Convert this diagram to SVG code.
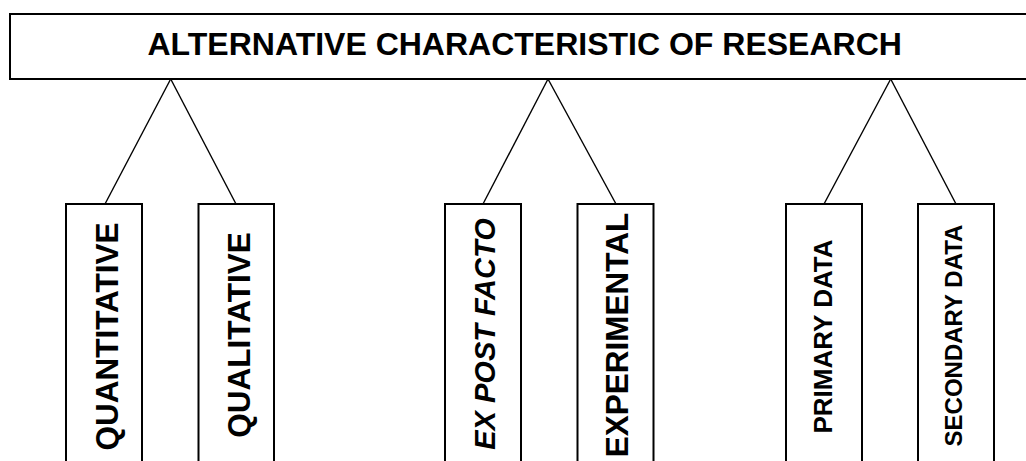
<svg xmlns="http://www.w3.org/2000/svg" width="1026" height="461" viewBox="0 0 1026 461">
<style>
.box{fill:#fff;stroke:#000;stroke-width:2}
.conn{stroke:#000;stroke-width:1.4;fill:none}
.t{font-family:"Liberation Sans",Arial,sans-serif;font-weight:bold;fill:#000;text-anchor:middle}
</style>
<rect width="1026" height="461" fill="#fff"/>
<g id="connectors">
<line class="conn" x1="170.7" y1="79" x2="105" y2="204"/>
<line class="conn" x1="170.7" y1="79" x2="236" y2="204"/>
<line class="conn" x1="548" y1="79" x2="483" y2="204"/>
<line class="conn" x1="548" y1="79" x2="616" y2="204"/>
<line class="conn" x1="890.7" y1="79" x2="824" y2="204"/>
<line class="conn" x1="890.7" y1="79" x2="956" y2="204"/>
</g>
<g id="root">
<rect class="box" x="10" y="14" width="1030" height="65"/>
<text class="t" x="524.7" y="55" font-size="32">ALTERNATIVE CHARACTERISTIC OF RESEARCH</text>
</g>
<g id="quantitative">
<rect class="box" x="66" y="204" width="76" height="270"/>
<text class="t" transform="translate(118,336.5) rotate(-90)" font-size="31.5">QUANTITATIVE</text>
</g>
<g id="qualitative">
<rect class="box" x="198.5" y="204" width="75.5" height="270"/>
<text class="t" transform="translate(250,335) rotate(-90)" font-size="31.5">QUALITATIVE</text>
</g>
<g id="expostfacto">
<rect class="box" x="445" y="204" width="76" height="270"/>
<text class="t" transform="translate(495,334) rotate(-90)" font-size="29" font-style="italic">EX POST FACTO</text>
</g>
<g id="experimental">
<rect class="box" x="577.5" y="204" width="76" height="270"/>
<text class="t" transform="translate(628,335) rotate(-90)" font-size="31.5">EXPERIMENTAL</text>
</g>
<g id="primarydata">
<rect class="box" x="786" y="204" width="76" height="270"/>
<text class="t" transform="translate(831.5,336.5) rotate(-90)" font-size="26">PRIMARY DATA</text>
</g>
<g id="secondarydata">
<rect class="box" x="918" y="204" width="76" height="270"/>
<text class="t" transform="translate(962,335.5) rotate(-90)" font-size="24">SECONDARY DATA</text>
</g>
</svg>
